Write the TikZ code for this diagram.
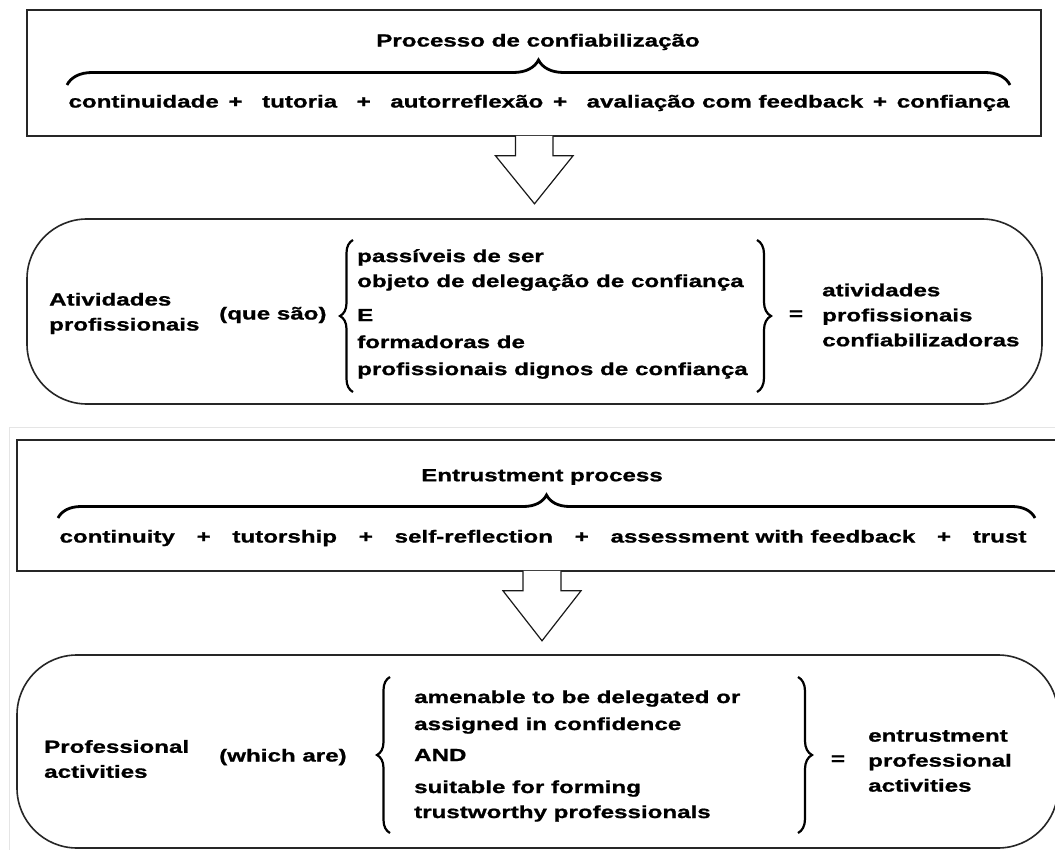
\documentclass[tikz,border=0pt]{standalone}
\usepackage{fontspec}
\newfontfamily\labfont{Liberation Sans}[UprightFont=* Bold, FakeStretch=1.38, FakeBold=1]
\usetikzlibrary{decorations.pathreplacing,calc}
\begin{document}
\begin{tikzpicture}[x=1pt,y=-1pt,
  lab/.style={font=\labfont\fontsize{17.5}{25}\selectfont, inner sep=0pt, align=left},
  boxline/.style={draw=black!85, line width=1.6pt, inner sep=0pt},
  bigarrow/.style={draw=black!90, line width=1.2pt, fill=white, line join=miter},
  hbrace/.style={decorate, decoration={brace, amplitude=#1}, line width=2.8pt},
  vbrace/.style={decorate, decoration={brace, amplitude=#1}, line width=2.2pt}]
\useasboundingbox (0,0) rectangle (1055,850);
\fill[white] (0,0) rectangle (1055,850);
% frame of second picture
\draw[gray!20, line width=0.8pt] (9,860) -- (9,427) -- (1060,427);

% ---------- Portuguese ----------
\node[boxline, minimum width=1014pt, minimum height=126pt] (proc) at (534,73) {};
\node[lab] (ptitle) at (538,42) {Processo de confiabilização};
\draw[hbrace=25pt] (67,85) -- (1010,85);
\node[lab] (pline) at (539,103) {\makebox[941pt][s]{continuidade + \ tutoria \ + \ autorreflexão + \ \mbox{avaliação com feedback} + confiança}};

\node[boxline, rounded corners=60pt, minimum width=1015pt, minimum height=185pt] (ativ) at (534.5,311.5) {};
\filldraw[bigarrow] ($(proc.south)+(-18.5,-1)$) -- ++(0,20) -- ++(-20,0) -- ($(proc.south)+(0.5,67)$) -- ($(proc.south)+(39,19)$) -- ++(-20,0) -- ++(0,-20);

\node[lab, anchor=west] (pa) at (49,313.5) {Atividades\\profissionais};
\node[lab, anchor=west] (pq) at (219,315) {(que são)};
\draw[vbrace=13pt] (353,392) -- (353,240);
\node[lab, anchor=west] (pmid) at (357,314) {passíveis de ser\\objeto de delegação de confiança\\[9pt]E\\[2pt]formadoras de\\[2pt]profissionais dignos de confiança};
\draw[vbrace=14pt] (757,240) -- (757,392);
\node[lab] (peq) at (796,315) {=};
\node[lab, anchor=west] (pres) at (822,315) {atividades\\profissionais\\confiabilizadoras};

% ---------- English ----------
\node[boxline, minimum width=1058pt, minimum height=131pt] (entr) at (546,505.5) {};
\node[lab] (etitle) at (542,477) {Entrustment process};
\draw[hbrace=23pt] (58,518) -- (1035,518);
\node[lab] (eline) at (543,538) {\makebox[967pt][s]{continuity \ + \ tutorship \ + \ self-reflection \ + \ \mbox{assessment with feedback} \ + \ trust}};

\node[boxline, rounded corners=60pt, minimum width=1041pt, minimum height=193pt] (prof) at (537.5,751.5) {};
\filldraw[bigarrow] ($(entr.south)+(-23,-1)$) -- ++(0,20) -- ++(-20,0) -- ($(entr.south)+(-4,69)$) -- ($(entr.south)+(35,19)$) -- ++(-20,0) -- ++(0,-20);

\node[lab, anchor=west] (ea) at (44,759) {Professional\\activities};
\node[lab, anchor=west] (eq) at (219,757) {(which are)};
\draw[vbrace=13pt] (390,833) -- (390,677);
\node[lab, anchor=west] (emid) at (414,756) {amenable to be delegated or\\[2pt]assigned in confidence\\[6pt]AND\\[7pt]suitable for forming\\trustworthy professionals};
\draw[vbrace=14pt] (798,677) -- (798,833);
\node[lab] (eeq) at (838,760) {=};
\node[lab, anchor=west] (eres) at (868,761) {entrustment\\professional\\activities};
\end{tikzpicture}
\end{document}
